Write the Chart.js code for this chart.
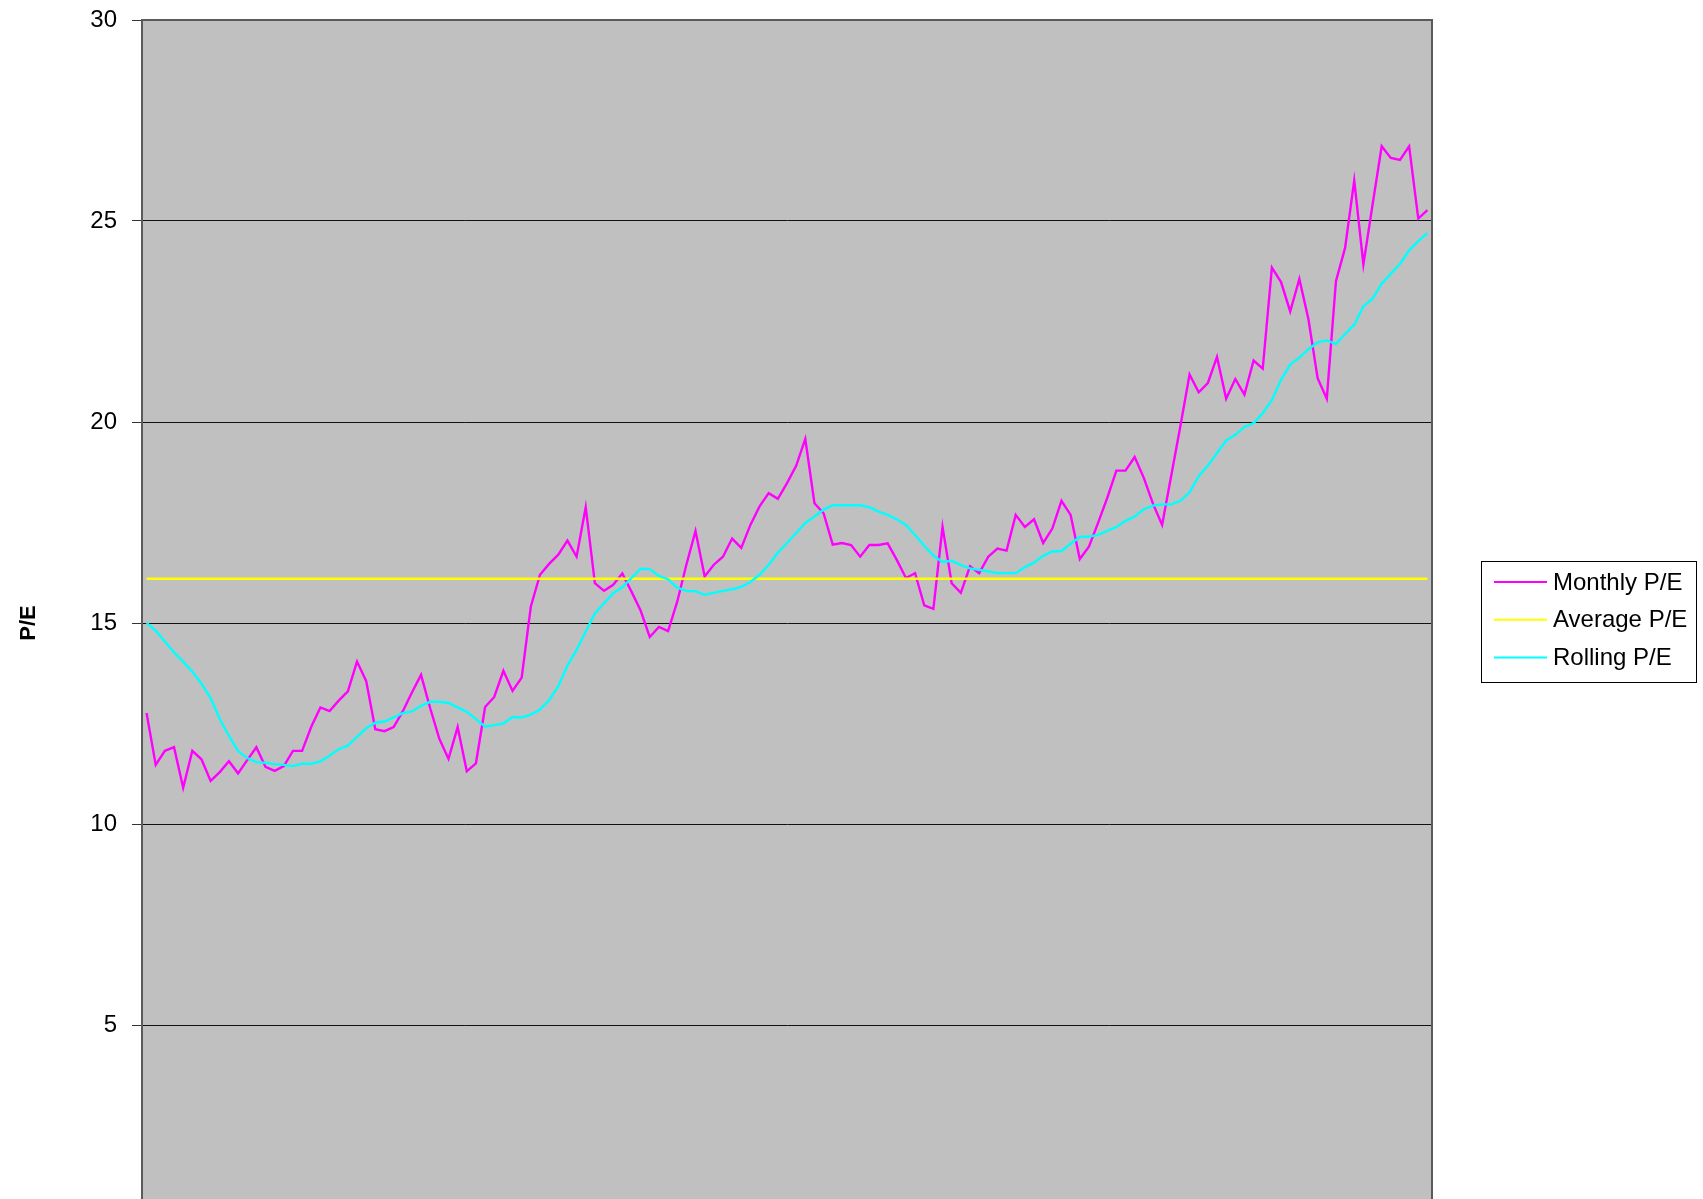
<!DOCTYPE html>
<html>
<head>
<meta charset="utf-8">
<script src="https://cdn.jsdelivr.net/npm/chart.js@4/dist/chart.umd.min.js"></script>
<style>
 html,body{margin:0;padding:0;background:#fff;overflow:hidden;}
 #wrap{width:1703px;height:1246px;}
</style>
</head>
<body>
<div id="wrap"><canvas id="pe" width="1703" height="1246"></canvas></div>
<script>
// monthly P/E, 141 months
const monthlyPE=[
 12.76,11.47,11.82,11.91,10.90,11.82,11.61,11.07,11.29,11.56,
 11.26,11.59,11.91,11.42,11.32,11.44,11.82,11.82,12.42,12.90,
 12.81,13.07,13.30,14.04,13.56,12.36,12.31,12.41,12.80,13.27,
 13.71,12.88,12.12,11.62,12.41,11.31,11.51,12.91,13.16,13.81,
 13.31,13.64,15.41,16.20,16.47,16.70,17.05,16.65,17.88,15.99,
 15.80,15.95,16.23,15.78,15.31,14.65,14.90,14.80,15.53,16.45,
 17.29,16.16,16.45,16.65,17.10,16.87,17.44,17.90,18.23,18.09,
 18.48,18.91,19.58,17.98,17.73,16.95,16.99,16.94,16.65,16.94,
 16.94,16.98,16.57,16.12,16.24,15.44,15.35,17.39,15.99,15.75,
 16.41,16.24,16.65,16.85,16.80,17.69,17.39,17.58,16.99,17.35,
 18.04,17.69,16.59,16.90,17.49,18.11,18.79,18.79,19.13,18.61,
 17.97,17.44,18.67,19.90,21.18,20.74,20.97,21.62,20.58,21.07,
 20.68,21.53,21.33,23.84,23.48,22.75,23.56,22.55,21.09,20.58,
 23.50,24.33,26.01,23.92,25.40,26.86,26.57,26.52,26.86,25.06,
 25.27
];
const rollingPE=[
 15.00,14.81,14.54,14.27,14.04,13.79,13.49,13.13,12.61,12.19,
 11.82,11.64,11.54,11.52,11.49,11.47,11.44,11.50,11.50,11.56,
 11.70,11.86,11.95,12.17,12.38,12.52,12.55,12.65,12.76,12.80,
 12.94,13.04,13.04,13.01,12.90,12.79,12.61,12.42,12.46,12.50,
 12.66,12.65,12.72,12.85,13.08,13.43,13.94,14.33,14.79,15.24,
 15.49,15.74,15.89,16.12,16.35,16.34,16.17,16.09,15.88,15.80,
 15.79,15.70,15.75,15.80,15.84,15.90,16.02,16.20,16.45,16.75,
 16.99,17.24,17.49,17.65,17.82,17.93,17.93,17.93,17.93,17.88,
 17.77,17.69,17.58,17.44,17.19,16.92,16.68,16.52,16.55,16.44,
 16.36,16.32,16.28,16.24,16.24,16.24,16.39,16.50,16.67,16.78,
 16.79,16.97,17.14,17.15,17.19,17.29,17.39,17.54,17.65,17.83,
 17.92,17.95,17.95,18.04,18.25,18.65,18.92,19.23,19.54,19.68,
 19.88,19.97,20.22,20.55,21.05,21.43,21.60,21.81,21.98,22.03,
 21.94,22.19,22.42,22.88,23.07,23.44,23.69,23.93,24.27,24.50,
 24.70
];
const averagePE=16.1;
const seriesNames=['Monthly P/E','Average P/E','Rolling P/E'];
const seriesColors=['#ff00ff','#ffff00','#00ffff'];
const yTicks=[0,5,10,15,20,25,30];

const months=monthlyPE.map((_,i)=>String(i+1));
const averageLine=monthlyPE.map(()=>averagePE);

Chart.defaults.font.family='"Liberation Sans", Arial, sans-serif';
Chart.defaults.color='#000';

// grey plot area
const plotBg={
 id:'plotBg',
 beforeDraw(chart){
  const a=chart.chartArea,c=chart.ctx;
  c.save();
  c.fillStyle='#c0c0c0';
  c.fillRect(a.left,a.top,a.right-a.left,a.bottom-a.top);
  c.restore();
 }
};

// dark frame round the plot, under the lines
const plotFrame={
 id:'plotFrame',
 beforeDatasetsDraw(chart){
  const a=chart.chartArea,c=chart.ctx;
  c.save();
  c.strokeStyle='#5a5a5a';
  c.lineWidth=2;
  c.strokeRect(a.left,a.top,a.right-a.left,a.bottom-a.top);
  c.restore();
 }
};

// boxed legend on the right
const boxLegend={
 id:'boxLegend',
 afterDraw(chart){
  const c=chart.ctx;
  const bx=1481.5,by=561.5,bw=215,bh=121;
  c.save();
  c.fillStyle='#fff';
  c.fillRect(bx,by,bw,bh);
  c.strokeStyle='#000';
  c.lineWidth=1;
  c.strokeRect(bx,by,bw,bh);
  c.font='24px "Liberation Sans", Arial, sans-serif';
  c.textBaseline='middle';
  chart.data.datasets.forEach((ds,i)=>{
   const y=582+i*37.7;
   c.strokeStyle=ds.borderColor;
   c.lineWidth=2;
   c.beginPath();
   c.moveTo(1494,y);
   c.lineTo(1547,y);
   c.stroke();
   c.fillStyle='#000';
   c.fillText(ds.label,1553,y+1);
  });
  c.restore();
 }
};

new Chart(document.getElementById('pe'),{
 type:'line',
 data:{
  labels:months,
  datasets:[
   {label:seriesNames[0],data:monthlyPE,borderColor:seriesColors[0],borderWidth:2.4,pointRadius:0,tension:0,order:3},
   {label:seriesNames[1],data:averageLine,borderColor:seriesColors[1],borderWidth:2.4,pointRadius:0,tension:0,order:2},
   {label:seriesNames[2],data:rollingPE,borderColor:seriesColors[2],borderWidth:2.4,pointRadius:0,tension:0,order:1}
  ]
 },
 options:{
  responsive:false,
  animation:false,
  layout:{padding:{left:0,right:271,top:20,bottom:20}},
  plugins:{legend:{display:false},tooltip:{enabled:false}},
  scales:{
   x:{type:'category',offset:true,display:false},
   y:{
    min:yTicks[0],max:yTicks[yTicks.length-1],
    afterFit(s){s.width=142;},
    afterBuildTicks(s){s.ticks=yTicks.map(v=>({value:v}));},
    ticks:{font:{size:24,lineHeight:0.3},padding:15,color:'#000'},
    grid:{color:'#111',lineWidth:1,drawTicks:true,tickLength:10,tickColor:'#333'},
    border:{display:true,color:'#5a5a5a',width:2},
    title:{display:true,text:'P/E',font:{size:22,weight:'bold'},padding:{top:16,bottom:0}}
   }
  }
 },
 plugins:[plotBg,plotFrame,boxLegend]
});
</script>
</body>
</html>
